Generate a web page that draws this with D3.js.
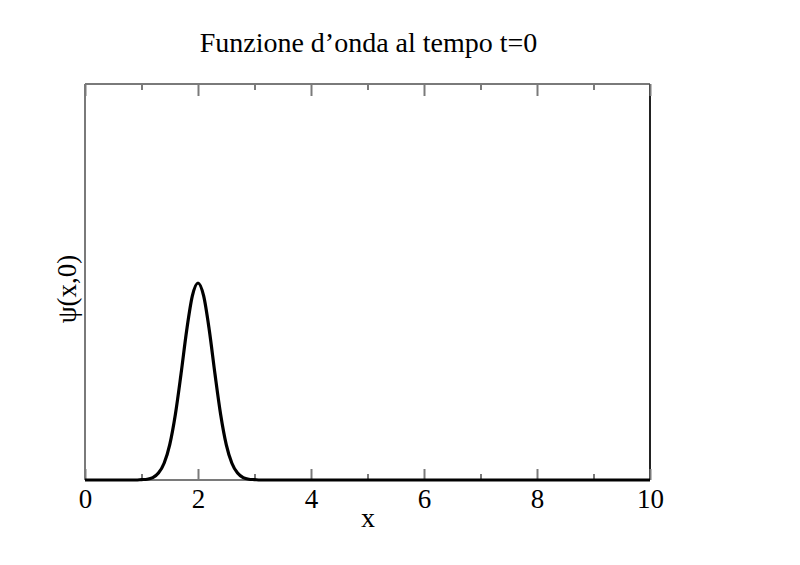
<!DOCTYPE html>
<html>
<head>
<meta charset="utf-8">
<script src="https://cdn.jsdelivr.net/npm/d3@7"></script>
<style>
  html, body { margin: 0; padding: 0; background: #fff; }
  svg text { font-family: "Liberation Serif", "Times New Roman", serif; fill: #000; }
</style>
</head>
<body>
<svg id="chart" width="800" height="565"></svg>
<script>
// ---- data ----
const title = "Funzione d\u2019onda al tempo t=0";
const xLabel = "x";
const yLabel = "\u03C8(x,0)";
const xValues = [0, 0.9, 1.0, 1.1, 1.2, 1.3, 1.4, 1.5, 1.6, 1.7, 1.8, 1.9, 2.0,
                 2.1, 2.2, 2.3, 2.4, 2.5, 2.6, 2.7, 2.8, 2.9, 3.0, 3.1, 10];
const psiValues = [0, 0, 0.002, 0.004, 0.012, 0.035, 0.085, 0.18, 0.334, 0.539, 0.76, 0.934, 1.0,
                   0.934, 0.76, 0.539, 0.334, 0.18, 0.085, 0.035, 0.012, 0.004, 0.002, 0, 0];
const majorTicks = [0, 2, 4, 6, 8, 10];
const minorTicks = [1, 3, 5, 7, 9];
const xDomain = [0, 10];
const yDomain = [0, 2.01];

// ---- layout ----
const mLeft = 85, mRight = 650, mTop = 84, mBottom = 480;
const svg = d3.select("#chart");
const x = d3.scaleLinear().domain(xDomain).range([mLeft, mRight]);
const y = d3.scaleLinear().domain(yDomain).range([mBottom, mTop]);

const gray = "#7a7a7a";

// frame
svg.append("line").attr("x1", mLeft).attr("x2", mLeft).attr("y1", mTop).attr("y2", mBottom)
  .attr("stroke", gray).attr("stroke-width", 2);
svg.append("line").attr("x1", mLeft).attr("x2", mRight).attr("y1", mTop).attr("y2", mTop)
  .attr("stroke", gray).attr("stroke-width", 2);
svg.append("line").attr("x1", mLeft).attr("x2", mRight).attr("y1", mBottom).attr("y2", mBottom)
  .attr("stroke", gray).attr("stroke-width", 2);
svg.append("line").attr("x1", mRight).attr("x2", mRight).attr("y1", mTop).attr("y2", mBottom)
  .attr("stroke", "#222").attr("stroke-width", 2);

// bottom axis: major ticks inward + labels
const bottomAxis = d3.axisBottom(x).tickValues(majorTicks).tickSizeInner(-11).tickSizeOuter(0)
  .tickPadding(9).tickFormat(d3.format("d"));
const gb = svg.append("g").attr("transform", `translate(0,${mBottom})`).call(bottomAxis);
gb.select(".domain").remove();
gb.selectAll(".tick line").attr("stroke", gray).attr("stroke-width", 2);
gb.attr("font-family", null).attr("font-size", null);
gb.selectAll(".tick text").attr("font-size", 27).attr("fill", "#000");

const bottomMinor = d3.axisBottom(x).tickValues(minorTicks).tickSizeInner(-6).tickSizeOuter(0).tickFormat("");
const gbm = svg.append("g").attr("transform", `translate(0,${mBottom})`).call(bottomMinor);
gbm.select(".domain").remove();
gbm.selectAll(".tick line").attr("stroke", gray).attr("stroke-width", 2);

// top axis ticks inward
const topAxis = d3.axisTop(x).tickValues(majorTicks).tickSizeInner(-12).tickSizeOuter(0).tickFormat("");
const gt = svg.append("g").attr("transform", `translate(0,${mTop})`).call(topAxis);
gt.select(".domain").remove();
gt.selectAll(".tick line").attr("stroke", gray).attr("stroke-width", 2);
const topMinor = d3.axisTop(x).tickValues(minorTicks).tickSizeInner(-6).tickSizeOuter(0).tickFormat("");
const gtm = svg.append("g").attr("transform", `translate(0,${mTop})`).call(topMinor);
gtm.select(".domain").remove();
gtm.selectAll(".tick line").attr("stroke", gray).attr("stroke-width", 2);

// curve
const pts = xValues.map((v, i) => [v, psiValues[i]]);
svg.append("path").datum(pts)
  .attr("fill", "none").attr("stroke", "#000").attr("stroke-width", 3.2)
  .attr("stroke-linejoin", "round")
  .attr("d", d3.line().x(d => x(d[0])).y(d => y(d[1])).curve(d3.curveMonotoneX));

// title
svg.append("text").attr("x", 368.5).attr("y", 52)
  .attr("text-anchor", "middle").attr("font-size", 28).text(title);

// x label
svg.append("text").attr("x", 368).attr("y", 527)
  .attr("text-anchor", "middle").attr("font-size", 28).text(xLabel);

// y label
svg.append("text").attr("transform", `translate(76,289) rotate(-90)`)
  .attr("text-anchor", "middle").attr("font-size", 27).text(yLabel);
</script>
</body>
</html>
